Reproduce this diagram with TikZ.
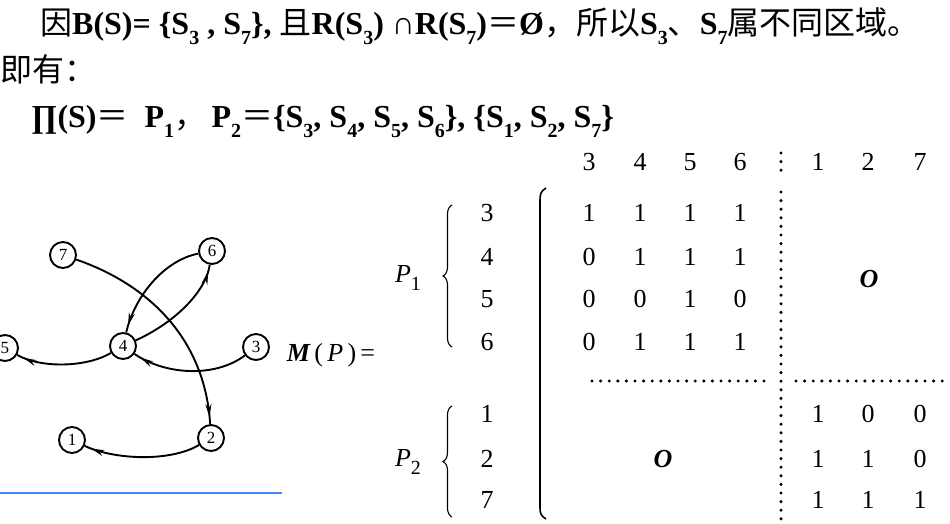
\documentclass[tikz,border=0pt]{standalone}
\usepackage{fontspec}
\setmainfont{Liberation Serif}
\newfontfamily\cjk{Noto Sans CJK SC}
\usetikzlibrary{arrows.meta,decorations.markings,decorations.pathreplacing}
\newcommand\zh[1]{{\cjk\mdseries #1}}
\newcommand\lo[1]{\raisebox{-0.3em}{\fontsize{20}{20}\selectfont #1}}
\definecolor{bluel}{RGB}{66,135,245}
\begin{document}
\begin{tikzpicture}[x=1pt,y=-1pt,
  vtx/.style={circle,draw,line width=1.9pt,inner sep=0pt,minimum size=26pt,font=\fontsize{17}{17}\selectfont},
  edge/.style={line width=1.9pt, postaction={decorate}, decoration={markings, mark=at position -7pt with {\arrow{Stealth[length=13pt,width=6pt]}}}},
  num/.style={font=\fontsize{26}{26}\selectfont, inner sep=0pt},
  line/.style={anchor=base west, inner sep=0pt, font=\fontsize{32}{32}\selectfont\bfseries},
  dotline/.style={line width=3.4pt, line cap=round, dash pattern=on 0pt off 8.6pt},
]
\useasboundingbox (0,0) rectangle (950,524);
% text lines
\node[line] (t1) at (40,35) {\zh{因}B(S)= \{S\lo{3} , S\lo{7}\}, \zh{且}R(S\lo{3}) ∩R(S\lo{7})\zh{＝}Ø\zh{，所以}S\lo{3}\zh{、}S\lo{7}\zh{属不同区域。}};
\node[line] (t2) at (0,82) {\zh{即有：}};
\node[line] (t3) at (31,128) {∏(S)\zh{＝}\ \ P\lo{1}\zh{，}\,P\lo{2}\zh{＝}\{S\lo{3}, S\lo{4}, S\lo{5}, S\lo{6}\}, \{S\lo{1}, S\lo{2}, S\lo{7}\}};
% graph
\node[vtx] (n7) at (63,255) {7};
\node[vtx] (n6) at (212,251) {6};
\node[vtx] (n5) at (5,348) {5};
\node[vtx] (n4) at (123,346) {4};
\node[vtx] (n3) at (256,347) {3};
\node[vtx] (n1) at (72,440) {1};
\node[vtx] (n2) at (211,438) {2};
\draw[edge] (n7) .. controls (150,285) and (205,340) .. (n2);
\draw[edge] (n4) .. controls (170,325) and (205,295) .. (n6);
\draw[edge] (n6) .. controls (165,260) and (135,295) .. (n4);
\draw[edge] (n4) .. controls (85,368) and (40,368) .. (n5);
\draw[edge] (n3) .. controls (215,378) and (165,375) .. (n4);
\draw[edge] (n2) .. controls (170,462) and (115,460) .. (n1);
\draw[bluel, line width=2.6pt] (0,493) -- (282,493);
% M(P)
\node[inner sep=0pt, font=\fontsize{26}{26}\selectfont] (mp) at (331,355) {{\bfseries\itshape M}\,(\,\textit{P}\,)\,=};
% braces
\node[inner sep=0pt, font=\fontsize{26}{26}\selectfont] (p1) at (408,278) {\textit{P}\lo{1}};
\node[inner sep=0pt, font=\fontsize{26}{26}\selectfont] (p2) at (408,462) {\textit{P}\lo{2}};
\draw[line width=1.1pt, decorate, decoration={brace, amplitude=9pt}] (452,347) -- (452,205);
\draw[line width=1.1pt, decorate, decoration={brace, amplitude=9pt}] (452,517) -- (452,406);
% bracket
\draw[line width=1.6pt] (546,188) .. controls (541,191) and (540,194) .. (540,200) -- (540,508) .. controls (540,513) and (541,516) .. (546,519);
% dotted
\draw[dotline] (781,153) -- (781,172);
\draw[dotline] (781,192) -- (781,522);
\draw[dotline] (592,381) -- (767,381);
\draw[dotline] (796,381) -- (945,381);
% headers
\foreach \v/\x in {3/589,4/640,5/690,6/740,1/818,2/868,7/920}
  \node[num] (h\v) at (\x,162) {\v};
\foreach \v/\y in {3/213,4/257,5/299,6/342,1/414,2/459,7/500}
  \node[num] (r\v) at (487,\y) {\v};
% block 1
\foreach \row [count=\i] in {{1,1,1,1},{0,1,1,1},{0,0,1,0},{0,1,1,1}} {
  \foreach \val [count=\j] in \row {
    \pgfmathsetmacro\xx{{589,640,690,740}[\j-1]}
    \pgfmathsetmacro\yy{{213,257,299,342}[\i-1]}
    \node[num] (a\i\j) at (\xx,\yy) {\val};
  }
}
\foreach \row [count=\i] in {{1,0,0},{1,1,0},{1,1,1}} {
  \foreach \val [count=\j] in \row {
    \pgfmathsetmacro\xx{{818,868,920}[\j-1]}
    \pgfmathsetmacro\yy{{414,459,500}[\i-1]}
    \node[num] (b\i\j) at (\xx,\yy) {\val};
  }
}
\node[num, font=\fontsize{26}{26}\selectfont\bfseries\itshape] (o1) at (869,279) {O};
\node[num, font=\fontsize{26}{26}\selectfont\bfseries\itshape] (o2) at (663,459) {O};
\end{tikzpicture}
\end{document}
